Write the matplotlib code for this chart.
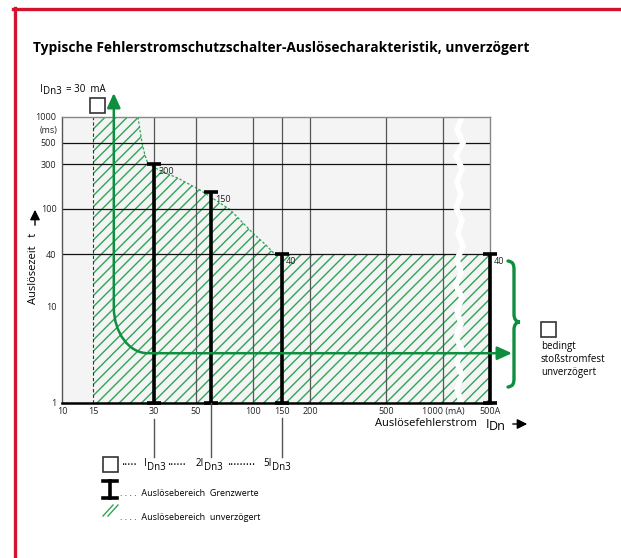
import numpy as np
import matplotlib
matplotlib.use("Agg")
import matplotlib.pyplot as plt
import matplotlib.transforms as mtransforms
from matplotlib.path import Path
from matplotlib.patches import FancyArrowPatch, PathPatch, Rectangle
from matplotlib.lines import Line2D
from matplotlib.ticker import NullLocator

plt.rcParams["font.family"] = ["Open Sans", "DejaVu Sans"]
plt.rcParams["hatch.linewidth"] = 1.0

W, H = 621, 558

# Auslösefehlerstrom in mA (500 A = 500000 mA), Auslösezeit in ms
X_TICKS = [10, 15, 30, 50, 100, 150, 200, 500, 1000, 500000]
X_LABELS = ["10", "15", "30", "50", "100", "150", "200", "500", "1000 (mA)", "500A"]
Y_TICKS = [1, 10, 40, 100, 300, 500, 1000]
Y_LABELS = ["1", "10", "40", "100", "300", "500", "1000"]
X_GRID = [30, 50, 100, 150, 200, 500, 1000]
Y_GRID = [40, 100, 300, 500]

# Grenzwerte bei I, 2I, 5I und 500 A
BAR_X = [30, 60, 150, 500000]
BAR_TOP = [300, 150, 40, 40]
BAR_LABELS = ["300", "150", "40", "40"]

# obere Kante des Bereichs "unverzögert"
BAND_X = [15, 25, 25.6, 26.2, 27, 28, 33, 40, 52.5, 75.5, 100, 120, 135, 500000]
BAND_T = [1000, 1000, 700, 500, 380, 300, 250, 213, 159, 99, 61, 48, 40, 40]

# axis is drawn piecewise-logarithmic: pixel distance of each tick from the axis origin
X_POS = [0, 31, 92, 134, 191, 220, 248, 324, 381, 428]
Y_POS = [0, 96, 149, 194, 239, 260, 286]

GREEN = "#0e8f3f"
HATCH = "#2ea556"
BG = "#f3f4f3"
RED = "#d2132d"


def interp_ext(x, xp, fp):
    x = np.asarray(x, dtype=float)
    xp = np.asarray(xp, dtype=float)
    fp = np.asarray(fp, dtype=float)
    y = np.interp(x, xp, fp)
    lo = fp[0] + (x - xp[0]) * (fp[1] - fp[0]) / (xp[1] - xp[0])
    hi = fp[-1] + (x - xp[-1]) * (fp[-1] - fp[-2]) / (xp[-1] - xp[-2])
    return np.where(x < xp[0], lo, np.where(x > xp[-1], hi, y))


def piecewise_log(ticks, pos):
    lt = np.log10(ticks)

    def fwd(v):
        v = np.clip(np.asarray(v, dtype=float), 1e-12, None)
        return interp_ext(np.log10(v), lt, pos)

    def inv(p):
        return 10 ** interp_ext(p, pos, lt)

    return fwd, inv


def fxy(x, y):
    return (x / W, 1 - y / H)


def idx_label(xj, y, pre, base, fs=7, rise=4):
    # raised "I" / "2I" prefix followed by the index text on the baseline
    fig.text(*fxy(xj, y - rise), pre, fontsize=fs, ha="right", va="center")
    fig.text(*fxy(xj, y), base, fontsize=fs, ha="left", va="center")


fig = plt.figure(figsize=(W / 100, H / 100), dpi=100)
ax = fig.add_axes([62 / W, 1 - 403 / H, 428 / W, 286 / H])
ax.set_facecolor(BG)
ax.set_xscale("function", functions=piecewise_log(X_TICKS, X_POS))
ax.set_yscale("function", functions=piecewise_log(Y_TICKS, Y_POS))
ax.set_xlim(10, 500000)
ax.set_ylim(1, 1000)

ax.set_xticks(X_TICKS, X_LABELS)
ax.set_yticks(Y_TICKS, Y_LABELS)
ax.xaxis.set_minor_locator(NullLocator())
ax.yaxis.set_minor_locator(NullLocator())
ax.tick_params(length=0, labelsize=6.5, labelcolor="#222222")
ax.tick_params(axis="x", pad=3)
ax.tick_params(axis="y", pad=4)

for side, col, lw in [("left", "#555555", 1.0), ("top", "#888888", 1.0),
                      ("right", "#888888", 1.0), ("bottom", "black", 1.8)]:
    ax.spines[side].set_color(col)
    ax.spines[side].set_linewidth(lw)

# hatched trip region
ax.fill_between(BAND_X, 1, BAND_T, facecolor="none", edgecolor=HATCH,
                hatch="///", linewidth=0, zorder=1)
ax.plot(BAND_X[1:13], BAND_T[1:13], color=HATCH, lw=0.9, ls=(0, (2, 1.5)), zorder=1.2)
ax.axvline(15, color="#333333", lw=0.8, ls=(0, (3, 2)), zorder=1.5)

for x in X_GRID:
    ax.axvline(x, color="#555555", lw=0.9, zorder=1.5)
for t in Y_GRID:
    ax.axhline(t, color="#111111", lw=0.9, zorder=1.5)

# white break in the current axis
zig_dx = [2, -3, 3, -4, 2, -3, 1, -4, 2, -2, 3, -3, 1, -4, 2, -3, 1, -4, 2, -3, 2, -3, 1]
zig_y = np.linspace(1.0, 0.005, len(zig_dx))
zig_x = 1 - (30 - np.array(zig_dx)) / 428
ax.plot(zig_x, zig_y, transform=ax.transAxes, color="white", lw=4.0,
        solid_joinstyle="miter", zorder=2.5, clip_on=False)

# Grenzwerte bars with caps
ax.vlines(BAR_X, 1, BAR_TOP, color="black", lw=2.6, zorder=4, clip_on=False)
ax.plot(BAR_X, BAR_TOP, ls="none", marker="_", ms=10, mew=2.6, color="black",
        zorder=4, clip_on=False)
ax.plot(BAR_X, [1] * len(BAR_X), ls="none", marker="_", ms=10, mew=2.6,
        color="black", zorder=4, clip_on=False)
for x, t, lab in zip(BAR_X, BAR_TOP, BAR_LABELS):
    ax.annotate(lab, (x, t), xytext=(3, -2), textcoords="offset points",
                fontsize=6.5, ha="left", va="top", color="#222222", zorder=5,
                annotation_clip=False)

ax.annotate("(ms)", (0, 1000), xycoords=("axes fraction", "data"),
            xytext=(-4, -13), textcoords="offset pixels", fontsize=6.5,
            ha="right", va="center", color="#222222")

# green path: I_Dn3 rising, turning into the horizontal "stoßstromfest" arrow
cdx, cdy = ax.transData.transform((19, 3.3))
cx, cy = cdx, H - cdy
rx, ry, k = 34, 46, 0.552
pts = [(cx, 93), (cx, cy - ry), (cx, cy - ry + k * ry), (cx + rx - k * rx, cy),
       (cx + rx, cy), (512, cy)]
codes = [Path.MOVETO, Path.LINETO, Path.CURVE4, Path.CURVE4, Path.CURVE4, Path.LINETO]
green_path = Path([fxy(*p) for p in pts], codes)
fig.add_artist(FancyArrowPatch(path=green_path, transform=fig.transFigure,
                               arrowstyle="<|-|>,head_length=0.55,head_width=0.25",
                               mutation_scale=16, color=GREEN, lw=1.8))

# brace on the right
brace = [(508, 261), (513, 262), (514, 264), (514, 270), (514, 314),
         (514, 319), (516, 322), (520, 322), (516, 322), (514, 325), (514, 330),
         (514, 378), (514, 384), (513, 386), (508, 387)]
bcodes = [Path.MOVETO, Path.CURVE4, Path.CURVE4, Path.CURVE4, Path.LINETO,
          Path.CURVE4, Path.CURVE4, Path.CURVE4, Path.CURVE4, Path.CURVE4, Path.CURVE4,
          Path.LINETO, Path.CURVE4, Path.CURVE4, Path.CURVE4]
fig.add_artist(PathPatch(Path([fxy(*p) for p in brace], bcodes), transform=fig.transFigure,
                         fill=False, ec=GREEN, lw=2.4, capstyle="round"))

# empty boxes
for x0, y0 in [(90, 98), (541, 322), (103, 457)]:
    fig.add_artist(Rectangle(fxy(x0, y0 + 15), 15 / W, 15 / H, transform=fig.transFigure,
                             fill=False, ec="#333333", lw=1.2))

# red frame
fig.add_artist(Line2D([13 / W, 1], [1 - 8.5 / H] * 2, transform=fig.transFigure,
                      color=RED, lw=2.4))
fig.add_artist(Line2D([14.5 / W] * 2, [1 - 7.5 / H, 0], transform=fig.transFigure,
                      color=RED, lw=2.4))

# texts
fig.text(*fxy(33, 48), "Typische Fehlerstromschutzschalter-Auslösecharakteristik, unverzögert",
         fontsize=9.9, fontweight="bold", va="center", ha="left")
idx_label(43, 92, "I", "Dn3", fs=7, rise=3)
fig.text(*fxy(66, 89), "= 30  mA", fontsize=7, va="center", ha="left")

fig.text(*fxy(33, 268), "Auslösezeit   t", rotation=90, fontsize=8, va="center", ha="center")
fig.add_artist(FancyArrowPatch(fxy(35, 228), fxy(35, 207), transform=fig.transFigure,
                               arrowstyle="-|>,head_length=0.5,head_width=0.25",
                               mutation_scale=12, color="black", lw=1.0))

fig.text(*fxy(375, 424), "Auslösefehlerstrom", fontsize=8, va="center", ha="left")
idx_label(489, 427, "I", "Dn", fs=9, rise=3)
fig.add_artist(FancyArrowPatch(fxy(510, 424), fxy(530, 424), transform=fig.transFigure,
                               arrowstyle="-|>,head_length=0.5,head_width=0.25",
                               mutation_scale=12, color="black", lw=1.0))

for i, s in enumerate(["bedingt", "stoßstromfest", "unverzögert"]):
    fig.text(*fxy(541, 347 + 13 * i), s, fontsize=7, va="center", ha="left")

# leader lines from the multiples of I_Dn3 to the legend
low = mtransforms.blended_transform_factory(ax.transData, fig.transFigure)
for x, y0 in [(30, 419), (60, 403), (150, 418)]:
    fig.add_artist(Line2D([x, x], [1 - y0 / H, 1 - 457 / H], transform=low,
                          color="#555555", lw=1.0))
idx_label(147, 468, "I", "Dn3")
idx_label(204, 468, "2I", "Dn3")
idx_label(272, 468, "5I", "Dn3")
for x0, s in [(121, "....."), (167, "......"), (227, ".........")]:
    fig.text(*fxy(x0, 468), s, fontsize=8.5, va="bottom", ha="left")

# legend: I-beam and hatch symbols
fig.add_artist(Line2D([110 / W] * 2, [1 - 481 / H, 1 - 498 / H], transform=fig.transFigure,
                      color="black", lw=2.6))
for yy in (481, 498):
    fig.add_artist(Line2D([103 / W, 117 / W], [1 - yy / H] * 2, transform=fig.transFigure,
                          color="black", lw=2.6))
for dx in (0, 5):
    fig.add_artist(Line2D([(103 + dx) / W, (113 + dx) / W], [1 - 516 / H, 1 - 505 / H],
                          transform=fig.transFigure, color=HATCH, lw=1.0))
fig.text(*fxy(120, 494), ". . . .  Auslösebereich  Grenzwerte", fontsize=6.5, va="center", ha="left")
fig.text(*fxy(120, 517), ". . . .  Auslösebereich  unverzögert", fontsize=6.5, va="center", ha="left")

fig.savefig("out.png", dpi=100)
